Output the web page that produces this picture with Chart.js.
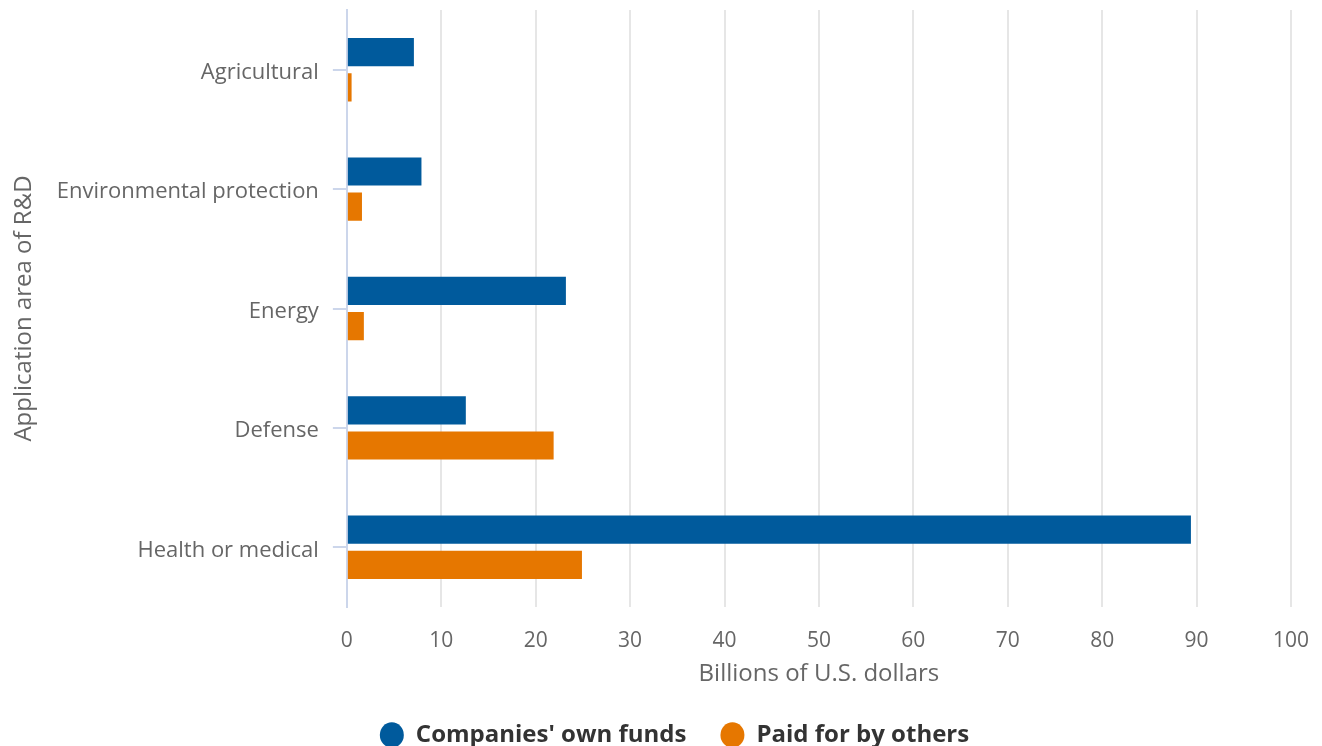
<!DOCTYPE html>
<html>
<head>
<meta charset="utf-8">
<script src="https://cdn.jsdelivr.net/npm/chart.js@4/dist/chart.umd.min.js"></script>
<style>
  html, body { margin: 0; padding: 0; background: #fff; }
  #wrap { width: 1322px; height: 746px; position: relative; }
</style>
</head>
<body>
<div id="wrap"><canvas id="rdChart"></canvas></div>
<script>
// Chart data
const categories = ['Agricultural', 'Environmental protection', 'Energy', 'Defense', 'Health or medical'];
const ownFunds = [7.1, 7.9, 23.2, 12.6, 89.4];
const paidByOthers = [0.5, 1.6, 1.8, 21.9, 24.9];
const xTicks = [0, 10, 20, 30, 40, 50, 60, 70, 80, 90, 100];

const FONT = "'Open Sans', 'Noto Sans', sans-serif";

// nudge the legend a little to the right, like the original
const legendShift = {
    id: 'legendShift',
    afterLayout(chart) {
        chart.legend.left += 12;
        chart.legend.right += 12;
    }
};

new Chart(document.getElementById('rdChart'), {
    type: 'bar',
    data: {
        labels: categories,
        datasets: [{
            label: "Companies' own funds",
            data: ownFunds,
            backgroundColor: '#005a9c',
            borderWidth: 0,
            categoryPercentage: 0.59,
            barPercentage: 0.8
        }, {
            label: 'Paid for by others',
            data: paidByOthers,
            backgroundColor: '#e67700',
            borderWidth: 0,
            categoryPercentage: 0.59,
            barPercentage: 0.8
        }]
    },
    plugins: [legendShift],
    options: {
        indexAxis: 'y',
        responsive: true,
        maintainAspectRatio: false,
        animation: false,
        layout: { padding: { top: 0, right: 7, bottom: -11, left: 10 } },
        plugins: {
            tooltip: { enabled: false },
            legend: {
                position: 'bottom',
                labels: {
                    usePointStyle: true,
                    pointStyle: 'circle',
                    boxHeight: 18,
                    pointStyleWidth: 24,
                    padding: 34,
                    color: '#333333',
                    font: { family: FONT, size: 24, weight: 'bold' }
                }
            }
        },
        scales: {
            x: {
                min: 0,
                max: 100,
                afterBuildTicks: axis => { axis.ticks = xTicks.map(v => ({ value: v })); },
                afterFit: axis => { axis.height -= 14; axis.paddingRight = 31; },
                border: { display: false },
                grid: { color: '#e6e6e6', lineWidth: 2, drawTicks: false },
                ticks: { color: '#666666', padding: 21, font: { family: FONT, size: 21 } },
                title: {
                    display: true,
                    text: 'Billions of U.S. dollars',
                    color: '#666666',
                    padding: { top: 0, bottom: 0 },
                    font: { family: FONT, size: 24 }
                }
            },
            y: {
                afterFit: axis => { axis.paddingTop = 10; },
                border: { display: true, color: '#ccd6eb', width: 2 },
                grid: { offset: false, drawOnChartArea: false, color: '#ccd6eb', lineWidth: 2, tickLength: 14 },
                ticks: { color: '#666666', padding: 14, labelOffset: 3, font: { family: FONT, size: 22 } },
                title: {
                    display: true,
                    text: 'Application area of R&D',
                    color: '#666666',
                    padding: { top: 0, bottom: 4 },
                    font: { family: FONT, size: 24 }
                }
            }
        }
    }
});
</script>
</body>
</html>
